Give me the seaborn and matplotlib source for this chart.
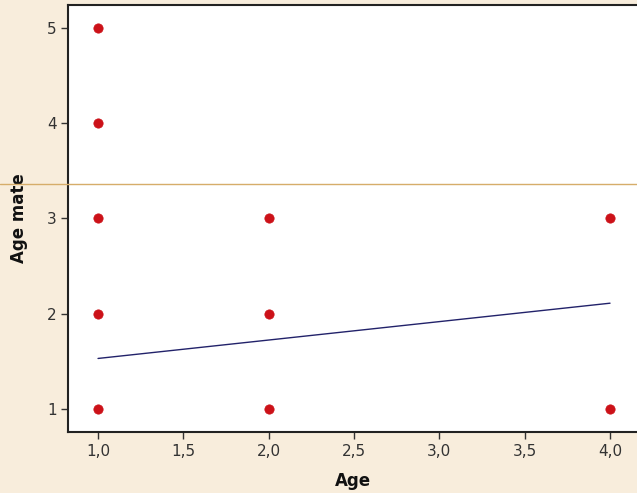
import matplotlib
matplotlib.use("Agg")
import matplotlib.pyplot as plt
import seaborn as sns
import pandas as pd
from matplotlib.lines import Line2D
from matplotlib.ticker import FixedLocator, FuncFormatter

age = [1, 1, 1, 1, 1, 2, 2, 2, 4, 4]
age_mate = [1, 2, 3, 4, 5, 1, 2, 3, 1, 3]
fit_x = [1.0, 4.0]
fit_y = [1.53, 2.11]
x_ticks = [1.0, 1.5, 2.0, 2.5, 3.0, 3.5, 4.0]
y_ticks = [1, 2, 3, 4, 5]

sns.set_theme(style="white")
plt.rcParams['font.family'] = ['DejaVu Sans']

df = pd.DataFrame({"Age": age, "Age mate": age_mate})
fit = pd.DataFrame({"x": fit_x, "y": fit_y})

bg = "#f8eddc"
fig = plt.figure(figsize=(6.37, 4.93), dpi=100, facecolor=bg)
ax = fig.add_axes([68/637, 1-432/493, 1.0 - 68/637, (432-5)/493])
ax.set_facecolor("white")

sns.lineplot(data=fit, x="x", y="y", ax=ax, color="#22226a", lw=1.0)
sns.scatterplot(data=df, x="Age", y="Age mate", ax=ax, color="#cc1118",
                s=45, edgecolor="#cc1118", linewidth=0.5, zorder=3)

ax.set_xlim(0.824, 4.158)
ax.set_ylim(0.758, 5.24)
ax.xaxis.set_major_locator(FixedLocator(x_ticks))
ax.yaxis.set_major_locator(FixedLocator(y_ticks))
ax.xaxis.set_major_formatter(FuncFormatter(lambda v, p: f"{v:.1f}".replace(".", ",")))
ax.yaxis.set_major_formatter(FuncFormatter(lambda v, p: f"{int(v)}"))
ax.tick_params(axis="both", direction="out", length=5, width=1, color="#333333",
               labelsize=11, labelcolor="#333333", bottom=True, left=True)
ax.tick_params(axis="x", pad=4)
ax.tick_params(axis="y", pad=3)
for s in ["left", "bottom", "top"]:
    ax.spines[s].set_color("#222222")
    ax.spines[s].set_linewidth(1.5)
ax.spines["right"].set_visible(False)

ax.set_xlabel("Age", fontsize=12, fontweight="bold", color="#111111", labelpad=9)
ax.set_ylabel("Age mate", fontsize=12, fontweight="bold", color="#111111", labelpad=14)

fig.add_artist(Line2D([0, 1], [1-184/493, 1-184/493], transform=fig.transFigure,
                      color="#d6ad6a", lw=1.0, zorder=10))

fig.savefig("out.png", dpi=100, facecolor=bg)
